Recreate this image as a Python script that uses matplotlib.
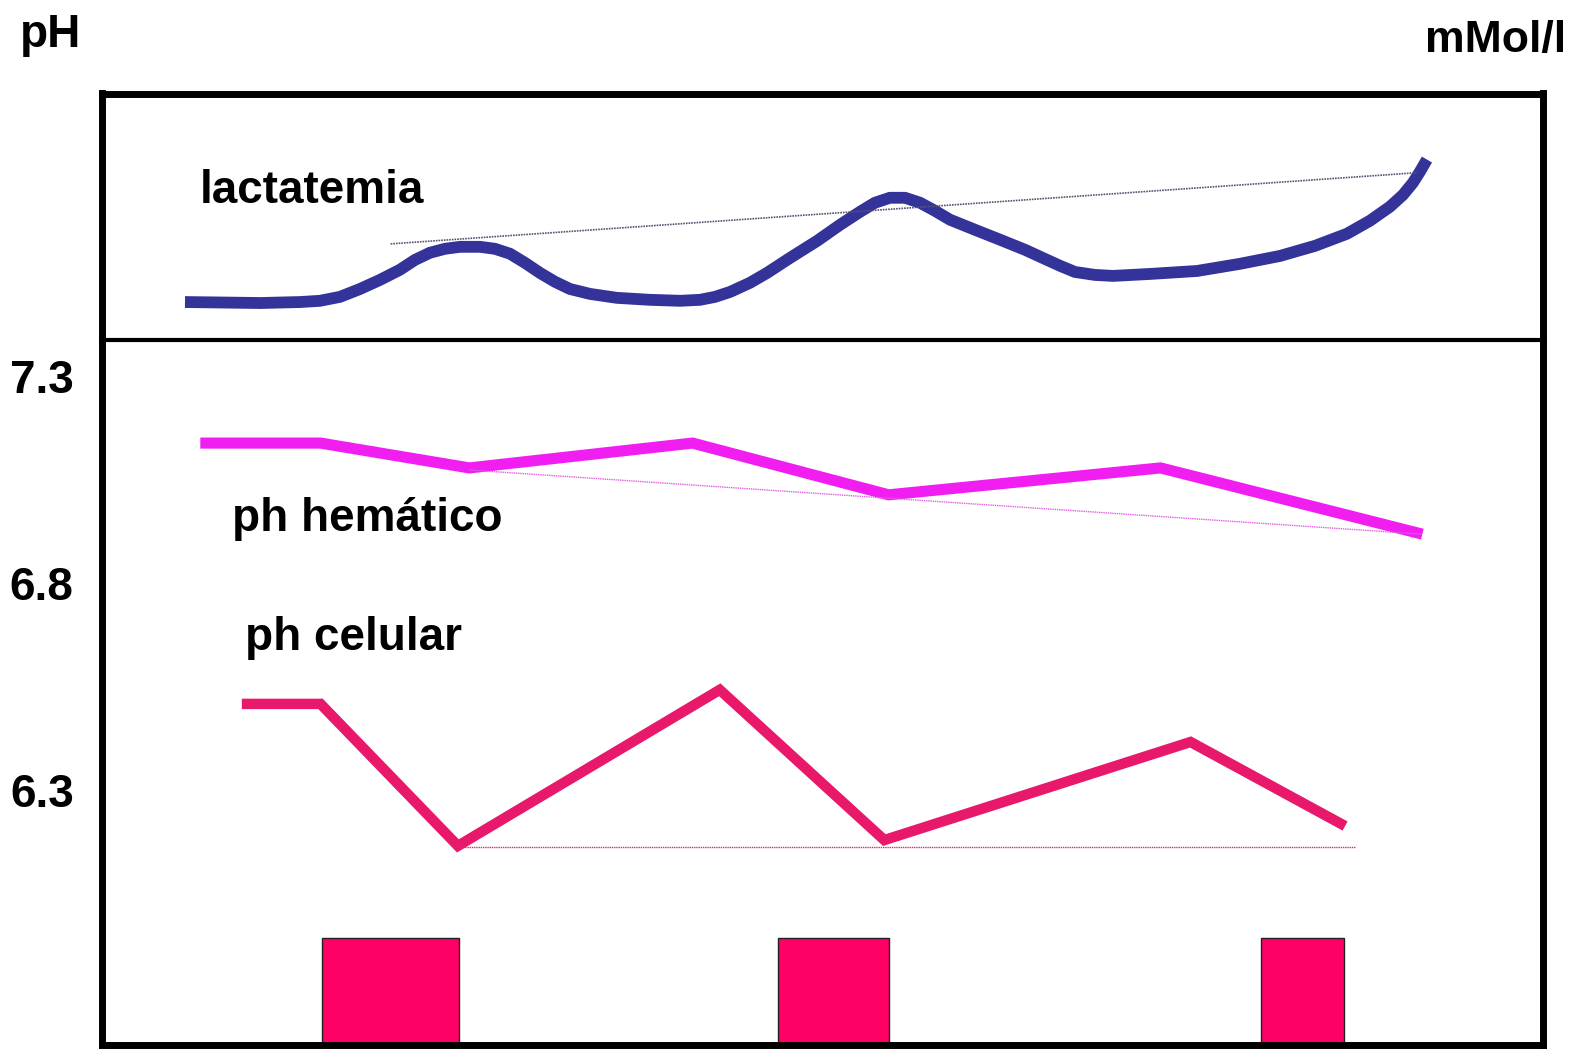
import matplotlib; matplotlib.use("Agg")
import matplotlib.pyplot as plt

plt.rcParams['font.family'] = ['Liberation Sans', 'DejaVu Sans']

# time axis (arbitrary units, 0-100 across the frame)
lact_t = [5.73, 10.97, 13.77, 15.16, 16.56, 17.96, 19.36, 20.75, 21.80, 22.85,
          23.90, 24.95, 26.35, 27.39, 28.44, 29.49, 30.54, 31.59, 32.63, 34.03,
          35.92, 38.22, 40.32, 41.72, 42.77, 43.82, 45.21, 46.40, 48.01, 49.90,
          51.50, 52.90, 53.95, 54.99, 56.04, 57.09, 58.14, 59.19, 60.94, 62.68,
          64.43, 65.97, 66.88, 67.92, 69.32, 70.58, 73.17, 76.45, 79.45, 82.25,
          84.70, 86.93, 88.54, 89.94, 90.85, 91.54, 92.03, 92.52]
lact_v = [1.54, 1.50, 1.54, 1.59, 1.75, 2.07, 2.44, 2.85, 3.25, 3.54,
          3.70, 3.78, 3.78, 3.70, 3.50, 3.13, 2.72, 2.36, 2.07, 1.87,
          1.71, 1.63, 1.59, 1.63, 1.75, 1.95, 2.32, 2.72, 3.33, 4.02,
          4.67, 5.20, 5.57, 5.77, 5.77, 5.57, 5.24, 4.88, 4.47, 4.07,
          3.66, 3.25, 3.01, 2.76, 2.64, 2.60, 2.68, 2.80, 3.09, 3.41,
          3.82, 4.31, 4.84, 5.41, 5.89, 6.38, 6.83, 7.32]
lact_trend_t = [20.1, 91.9]
lact_trend_v = [3.90, 6.79]

hem_t = [6.8, 15.2, 25.6, 41.2, 54.9, 73.9, 92.2]
hem_ph = [7.138, 7.138, 7.078, 7.138, 7.013, 7.078, 6.918]
hem_trend_t = [25.6, 92.2]
hem_trend_ph = [7.073, 6.918]

cel_t = [9.7, 15.2, 24.8, 43.1, 54.6, 76.0, 86.8]
cel_ph = [6.508, 6.508, 6.165, 6.542, 6.179, 6.416, 6.213]
cel_trend_t = [24.8, 87.5]
cel_trend_ph = [6.162, 6.162]

bar_left = [15.3, 47.2, 80.9]
bar_width = [9.6, 7.7, 5.8]
bar_top = 5.943

ph_ticks = [7.3, 6.8, 6.3]
ph_min, ph_max = 5.684, 7.387

W, H = 1576, 1052
fig = plt.figure(figsize=(W / 100, H / 100), dpi=100)

left, right = 101.5 / W, 1543 / W
ax_top = fig.add_axes([left, 1 - 340 / H, right - left, 246.5 / H])
ax_bot = fig.add_axes([left, 1 - 1045 / H, right - left, 705 / H])

for ax in (ax_top, ax_bot):
    ax.set_xlim(-0.105, 100.63)
    ax.set_xticks([])
    for s in ax.spines.values():
        s.set_linewidth(5)
        s.set_color('black')
        s.set_zorder(5)

# lactate panel
ax_top.set_ylim(0, 10)
ax_top.set_yticks([])
ax_top.spines['bottom'].set_visible(False)
ax_top.plot(lact_t, lact_v, color='#333399', lw=8.5, solid_joinstyle='round',
            solid_capstyle='butt')
ax_top.plot(lact_trend_t, lact_trend_v, color='#55556F', lw=1.2, ls=(0, (1, 0.6)))
ax_top.text(6.78, 5.57, 'lactatemia', fontsize=33, fontweight='bold', va='baseline')

# pH panel
ax_bot.set_ylim(ph_min, ph_max)
ax_bot.spines['top'].set_linewidth(3)
ax_bot.set_yticks(ph_ticks)
ax_bot.set_yticklabels([f'{v:.1f}' for v in ph_ticks], fontsize=33, fontweight='bold')
ax_bot.tick_params(axis='y', length=0, pad=20)

ax_bot.plot(hem_t, hem_ph, color='#F01EF0', lw=8, solid_joinstyle='miter',
            solid_capstyle='butt')
ax_bot.plot(hem_trend_t, hem_trend_ph, color='#E060E0', lw=1.0, ls=(0, (1, 0.6)))
ax_bot.plot(cel_t, cel_ph, color='#E8186A', lw=7.5, solid_joinstyle='miter',
            solid_capstyle='butt')
ax_bot.plot(cel_trend_t, cel_trend_ph, color='#D0306A', lw=1.0, ls=(0, (1, 0.6)))

ax_bot.bar(bar_left, [bar_top - ph_min] * 3, width=bar_width, bottom=ph_min,
           align='edge', color='#FF0066', edgecolor='#222222', linewidth=1, zorder=3)

ax_bot.text(9.01, 6.926, 'ph hemático', fontsize=33, fontweight='bold', va='baseline')
ax_bot.text(9.92, 6.638, 'ph celular', fontsize=33, fontweight='bold', va='baseline')

fig.text(20 / W, 1 - 47 / H, 'pH', fontsize=33, fontweight='bold', va='baseline')
fig.text(1566 / W, 1 - 52 / H, 'mMol/l', fontsize=32, fontweight='bold',
         va='baseline', ha='right')

plt.savefig("out.png", dpi=100)
